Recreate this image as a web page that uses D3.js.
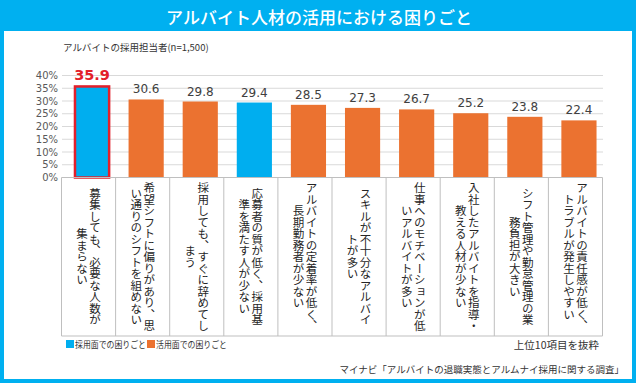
<!DOCTYPE html>
<html><head><meta charset="utf-8">
<script src="https://cdn.jsdelivr.net/npm/d3@7"></script>
<style>
body{margin:0;background:#fff}
svg{display:block}
text{font-family:"Noto Sans CJK JP","Noto Sans",sans-serif}
</style>
</head><body>
<svg id="c" width="638" height="387"></svg>
<script>
const title = "アルバイト人材の活用における困りごと";
const subtitle = "アルバイトの採用担当者(n=1,500)";
const categories = [
  "募集しても、必要な人数が集まらない",
  "希望シフトに偏りがあり、思い通りのシフトを組めない",
  "採用しても、すぐに辞めてしまう",
  "応募者の質が低く、採用基準を満たす人が少ない",
  "アルバイトの定着率が低く、長期勤務者が少ない",
  "スキルが不十分なアルバイトが多い",
  "仕事へのモチベーションが低いアルバイトが多い",
  "入社したアルバイトを指導・教える人材が少ない",
  "シフト管理や勤怠管理の業務負担が大きい",
  "アルバイトの責任感が低く、トラブルが発生しやすい"
];
const labelLines = [
  ["募集しても、必要な人数が", "集まらない"],
  ["希望シフトに偏りがあり、思", "い通りのシフトを組めない"],
  ["採用しても、すぐに辞めてし", "まう"],
  ["応募者の質が低く、採用基", "準を満たす人が少ない"],
  ["アルバイトの定着率が低く、", "長期勤務者が少ない"],
  ["スキルが不十分なアルバイ", "トが多い"],
  ["仕事へのモチベーションが低", "いアルバイトが多い"],
  ["入社したアルバイトを指導・", "教える人材が少ない"],
  ["シフト管理や勤怠管理の業", "務負担が大きい"],
  ["アルバイトの責任感が低く、", "トラブルが発生しやすい"]
];
const values = [35.9, 30.6, 29.8, 29.4, 28.5, 27.3, 26.7, 25.2, 23.8, 22.4];
const groups = ["採用", "活用", "活用", "採用", "活用", "活用", "活用", "活用", "活用", "活用"];
const groupNames = ["採用", "活用"];
const legendLabels = ["採用面での困りごと", "活用面での困りごと"];
const yTicks = [0, 5, 10, 15, 20, 25, 30, 35, 40];
const note = "上位10項目を抜粋";
const source = "マイナビ「アルバイトの退職実態とアルムナイ採用に関する調査」";

const BLUE = "#00AEEF", ORANGE = "#EB7230", RED = "#E3202A", FRAME = "#00B0F0";

const svg = d3.select("#c");

// frame
svg.append("rect").attr("x", 2).attr("y", 0).attr("width", 632).attr("height", 381)
  .attr("fill", "#fff").attr("stroke", FRAME).attr("stroke-width", 4);
svg.append("rect").attr("x", 0).attr("y", 0).attr("width", 636).attr("height", 31).attr("fill", FRAME);
svg.append("text").attr("x", 319).attr("y", 16).attr("text-anchor", "middle")
  .attr("dominant-baseline", "central").attr("fill", "#fff")
  .attr("font-size", 17).attr("font-weight", 500).text(title);

svg.append("text").attr("x", 63).attr("y", 51).attr("font-size", 9.5).attr("fill", "#333").text(subtitle);

const color = d3.scaleOrdinal(groupNames, [BLUE, ORANGE]);
const y = d3.scaleLinear([0, 40], [177.5, 75.5]);
const xCol = d3.scaleBand(categories, [61.5, 602.5]);
const xBar = d3.scaleBand(categories, [65, 606]).paddingInner(0.35).paddingOuter(0.175);

// gridlines
svg.append("g").selectAll("line").data(yTicks.filter(t => t > 0)).join("line")
  .attr("x1", 62).attr("x2", 603).attr("y1", d => y(d)).attr("y2", d => y(d))
  .attr("stroke", "#d9d9d9").attr("stroke-width", 1);

// y labels
svg.append("g").selectAll("text").data(yTicks).join("text")
  .attr("x", 58).attr("y", d => y(d)).attr("text-anchor", "end")
  .attr("dominant-baseline", "central").attr("font-size", 10)
  .style("font-family", "'DejaVu Sans',sans-serif").attr("fill", "#595959")
  .text(d => d + "%");

// bars
svg.append("g").selectAll("rect").data(values).join("rect")
  .attr("x", (d, i) => xBar(categories[i]))
  .attr("width", xBar.bandwidth())
  .attr("y", d => y(d))
  .attr("height", d => y(0) - y(d))
  .attr("fill", (d, i) => color(groups[i]));

// highlight border on top item
const iMax = values.indexOf(d3.max(values));
svg.append("rect")
  .attr("x", xBar(categories[iMax]) + 0.5).attr("width", xBar.bandwidth() - 1)
  .attr("y", y(values[iMax]) + 0.5).attr("height", y(0) - y(values[iMax]) - 0.5)
  .attr("fill", "none").attr("stroke", RED).attr("stroke-width", 2.5);

// value labels
svg.append("g").selectAll("text").data(values).join("text")
  .attr("x", (d, i) => xBar(categories[i]) + xBar.bandwidth() / 2)
  .attr("y", d => y(d) - 6)
  .attr("text-anchor", "middle")
  .style("font-family", "'DejaVu Sans',sans-serif")
  .attr("font-size", (d, i) => i === iMax ? 14.5 : 12)
  .attr("font-weight", (d, i) => i === iMax ? 700 : 400)
  .attr("fill", (d, i) => i === iMax ? RED : "#404040")
  .text(d => d.toFixed(1));

// table
const tableTop = y(0), tableBottom = 336;
const tbl = svg.append("g").attr("stroke", "#bfbfbf").attr("stroke-width", 1);
tbl.append("line").attr("x1", 61.5).attr("x2", 602.5).attr("y1", tableTop).attr("y2", tableTop);
tbl.append("line").attr("x1", 61.5).attr("x2", 602.5).attr("y1", tableBottom).attr("y2", tableBottom);
tbl.selectAll(".v").data(categories.map(c => xCol(c)).concat([xCol.range()[1]])).join("line")
  .attr("x1", d => d).attr("x2", d => d).attr("y1", tableTop).attr("y2", tableBottom);

const midY = (tableTop + tableBottom) / 2;
const lineGap = 13;
const lab = svg.append("g");
categories.forEach((c, i) => {
  const cx = xCol(c) + xCol.bandwidth() / 2;
  labelLines[i].forEach((s, j) => {
    lab.append("text")
      .attr("x", cx + lineGap / 2 - j * lineGap)
      .attr("y", midY)
      .attr("text-anchor", "middle")
      .style("writing-mode", "vertical-rl")
      .attr("font-size", 11.5).attr("fill", "#262626")
      .text(s);
  });
});

// legend
const lg = svg.append("g");
const legendX = [66, 147];
groupNames.forEach((g, i) => {
  lg.append("rect").attr("x", legendX[i]).attr("y", 340).attr("width", 8).attr("height", 8).attr("fill", color(g));
  lg.append("text").attr("x", legendX[i] + 9).attr("y", 344).attr("dominant-baseline", "central")
    .attr("font-size", 8.8).attr("textLength", 71).attr("lengthAdjust", "spacingAndGlyphs")
    .attr("fill", "#333").text(legendLabels[i]);
});
svg.append("text").attr("x", 599).attr("y", 344).attr("text-anchor", "end").attr("dominant-baseline", "central")
  .attr("font-size", 10.5).attr("fill", "#333").text(note);
svg.append("text").attr("x", 624).attr("y", 369).attr("text-anchor", "end").attr("dominant-baseline", "central")
  .attr("font-size", 9.5).attr("fill", "#333").text(source);
</script>
</body></html>
